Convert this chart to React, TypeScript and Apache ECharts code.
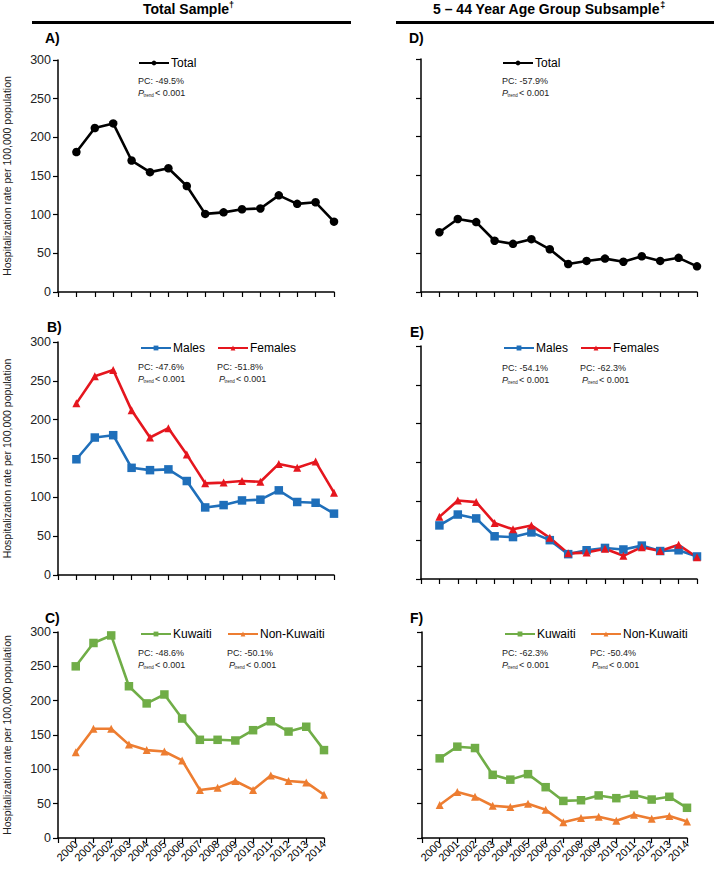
import React, { useEffect, useRef } from "react";
import * as echarts from "echarts";

const years = [2000, 2001, 2002, 2003, 2004, 2005, 2006, 2007, 2008, 2009, 2010, 2011, 2012, 2013, 2014];
const yTicks = [0, 50, 100, 150, 200, 250, 300];

// Panel A – Total sample
const totalA = [181, 212, 218, 170, 155, 160, 137, 101, 103, 107, 108, 125, 114, 116, 91];
// Panel B – Total sample by sex
const malesB = [149, 177, 180, 138, 135, 136, 121, 87, 90, 96, 97, 109, 94, 93, 79];
const femalesB = [221, 256, 264, 212, 177, 189, 155, 118, 119, 121, 120, 143, 138, 146, 106];
// Panel C – Total sample by nationality
const kuwaitiC = [250, 284, 295, 221, 196, 209, 174, 143, 143, 142, 157, 170, 155, 162, 128];
const nonKuwaitiC = [125, 159, 159, 136, 128, 126, 113, 70, 73, 83, 70, 91, 83, 81, 63];
// Panel D – 5–44 subsample total
const totalD = [77, 94, 90, 66, 62, 68, 55, 36, 40, 43, 39, 46, 40, 44, 33];
// Panel E – 5–44 subsample by sex
const malesE = [69, 83, 78, 55, 54, 60, 50, 32, 37, 40, 38, 43, 36, 37, 29];
const femalesE = [80, 101, 99, 72, 64, 69, 53, 33, 34, 39, 30, 41, 36, 44, 28];
// Panel F – 5–44 subsample by nationality
const kuwaitiF = [116, 133, 131, 92, 85, 93, 74, 54, 55, 62, 58, 63, 56, 60, 44];
const nonKuwaitiF = [48, 67, 60, 47, 45, 50, 41, 23, 29, 31, 25, 34, 28, 32, 24];

const pcLabels = {
  A: ["PC: -49.5%"],
  B: ["PC: -47.6%", "PC: -51.8%"],
  C: ["PC: -48.6%", "PC: -50.1%"],
  D: ["PC: -57.9%"],
  E: ["PC: -54.1%", "PC: -62.3%"],
  F: ["PC: -62.3%", "PC: -50.4%"],
};

const FONT = "Liberation Sans, Arial, sans-serif";
const BLACK = "#000000";
const BLUE = "#1F6FBA";
const RED = "#E5161E";
const GREEN = "#70AD47";
const ORANGE = "#ED7D31";

const pairs = (vals: number[]) => vals.map((v, i) => [years[i], v]);

export default function App() {
  const ref = useRef<HTMLDivElement>(null);

  useEffect(() => {
    document.body.style.margin = "0";
    if (!ref.current) return;
    const chart = echarts.init(ref.current, null, { renderer: "svg" });

    const grids = [
      { left: 57, top: 60, width: 277, height: 232 }, // A
      { left: 57, top: 342, width: 277, height: 233 }, // B
      { left: 57, top: 632, width: 267, height: 206 }, // C
      { left: 421, top: 59, width: 276, height: 233 }, // D
      { left: 421, top: 346, width: 276, height: 233 }, // E
      { left: 422, top: 632, width: 265, height: 206 }, // F
    ];

    const showX = [false, false, true, false, false, true];
    const showY = [true, true, true, false, false, false];

    const xAxis = grids.map((_, i) => ({
      type: "value",
      gridIndex: i,
      min: 1999,
      max: 2014,
      interval: 1,
      axisLine: { show: true, lineStyle: { color: BLACK, width: 1.5 } },
      axisTick: { show: true, inside: false, length: 5, lineStyle: { color: BLACK, width: 1.2 } },
      splitLine: { show: false },
      axisLabel: {
        show: showX[i],
        rotate: 45,
        fontSize: 11,
        fontFamily: FONT,
        color: BLACK,
        margin: 4,
        formatter: (v: number) => (v === 1999 ? "" : String(v)),
      },
    }));

    const yAxis = grids.map((_, i) => ({
      type: "value",
      gridIndex: i,
      min: yTicks[0],
      max: yTicks[yTicks.length - 1],
      interval: 50,
      axisLine: { show: true, lineStyle: { color: BLACK, width: 1.5 } },
      axisTick: { show: true, inside: false, length: 5, lineStyle: { color: BLACK, width: 1.2 } },
      splitLine: { show: false },
      axisLabel: { show: showY[i], fontSize: 12.5, fontFamily: FONT, color: "#222", margin: 7 },
      name: showY[i] ? "Hospitalization rate per 100,000 population" : "",
      nameLocation: "middle",
      nameGap: 46,
      nameTextStyle: { fontSize: 10.5, fontFamily: FONT, color: "#222" },
    }));

    const mk = (name: string, data: number[], idx: number, color: string, symbol: string, size: number) => ({
      type: "line",
      name,
      xAxisIndex: idx,
      yAxisIndex: idx,
      data: pairs(data),
      symbol,
      symbolSize: size,
      showSymbol: true,
      lineStyle: { color, width: 2.6 },
      itemStyle: { color },
      emphasis: { disabled: true },
    });

    const series = [
      mk("Total", totalA, 0, BLACK, "circle", 8.5),
      mk("Males", malesB, 1, BLUE, "rect", 8.5),
      mk("Females", femalesB, 1, RED, "triangle", 8),
      mk("Kuwaiti", kuwaitiC, 2, GREEN, "rect", 8.5),
      mk("Non-Kuwaiti", nonKuwaitiC, 2, ORANGE, "triangle", 8),
      mk("Total", totalD, 3, BLACK, "circle", 8.5),
      mk("Males", malesE, 4, BLUE, "rect", 8.5),
      mk("Females", femalesE, 4, RED, "triangle", 8),
      mk("Kuwaiti", kuwaitiF, 5, GREEN, "rect", 8.5),
      mk("Non-Kuwaiti", nonKuwaitiF, 5, ORANGE, "triangle", 8),
    ];

    const leg = (name: string, left: number, yc: number) => ({
      data: [name],
      left,
      top: yc - 7,
      padding: 0,
      itemWidth: 30,
      itemHeight: 6,
      itemGap: 2,
      selectedMode: false,
      textStyle: { fontSize: 12, fontFamily: FONT, color: BLACK, lineHeight: 14, padding: [0, 0, 0, -3] },
    });

    const legend = [
      leg("Total", 138, 63),
      leg("Males", 140, 348),
      leg("Females", 217, 348),
      leg("Kuwaiti", 140, 634),
      leg("Non-Kuwaiti", 227, 634),
      leg("Total", 502, 63),
      leg("Males", 503, 348),
      leg("Females", 580, 348),
      leg("Kuwaiti", 504, 634),
      leg("Non-Kuwaiti", 590, 634),
    ];

    const graphic: any[] = [];
    const txt = (text: string, x: number, y: number, opts: any = {}) =>
      graphic.push({
        type: "text",
        x,
        y,
        silent: true,
        style: { text, fontFamily: FONT, fontSize: 9, fill: "#222", verticalAlign: "middle", ...opts },
      });
    const pc = (label: string, x: number, y: number, px: number) => {
      txt(label, x, y);
      txt("P", px, y + 12, { fontStyle: "italic" });
      txt("trend", px + 5.5, y + 14.5, { fontSize: 4.5 });
      txt("< 0.001", px + 17, y + 12);
    };

    // headers
    const header = (main: string, mark: string, x: number) =>
      graphic.push({
        type: "text",
        x,
        y: 8,
        silent: true,
        style: {
          text: `{a|${main}}{b|${mark}}`,
          fontFamily: FONT,
          verticalAlign: "middle",
          rich: {
            a: { fontSize: 14, fontWeight: "bold", fontFamily: FONT, fill: BLACK, verticalAlign: "bottom", lineHeight: 16 },
            b: { fontSize: 9, fontWeight: "bold", fontFamily: FONT, fill: BLACK, verticalAlign: "top", lineHeight: 16 },
          },
        },
      });
    header("Total Sample", "†", 143);
    header("5 – 44 Year Age Group Subsample", "‡", 433);
    graphic.push({ type: "line", shape: { x1: 32, y1: 22.5, x2: 351, y2: 22.5 }, style: { stroke: BLACK, lineWidth: 3 } });
    graphic.push({ type: "line", shape: { x1: 396, y1: 22.5, x2: 714, y2: 22.5 }, style: { stroke: BLACK, lineWidth: 3 } });

    // panel letters
    const letter = (t: string, x: number, y: number) => txt(t, x, y, { fontSize: 14, fontWeight: "bold", fill: BLACK });
    letter("A)", 45, 38);
    letter("B)", 47, 327);
    letter("C)", 45, 618);
    letter("D)", 409, 38);
    letter("E)", 410, 332);
    letter("F)", 410, 618);

    // PC texts
    pc(pcLabels.A[0], 138, 81, 138);
    pc(pcLabels.B[0], 138, 367, 138);
    pc(pcLabels.B[1], 217, 367, 219);
    pc(pcLabels.C[0], 138, 653, 138);
    pc(pcLabels.C[1], 227, 653, 229);
    pc(pcLabels.D[0], 502, 81, 502);
    pc(pcLabels.E[0], 502, 368, 502);
    pc(pcLabels.E[1], 580, 368, 582);
    pc(pcLabels.F[0], 502, 653, 502);
    pc(pcLabels.F[1], 590, 653, 592);

    chart.setOption({
      animation: false,
      backgroundColor: "#ffffff",
      grid: grids,
      xAxis,
      yAxis,
      series,
      legend,
      graphic,
    });

    return () => chart.dispose();
  }, []);

  return <div ref={ref} style={{ width: 714, height: 870 }} />;
}
